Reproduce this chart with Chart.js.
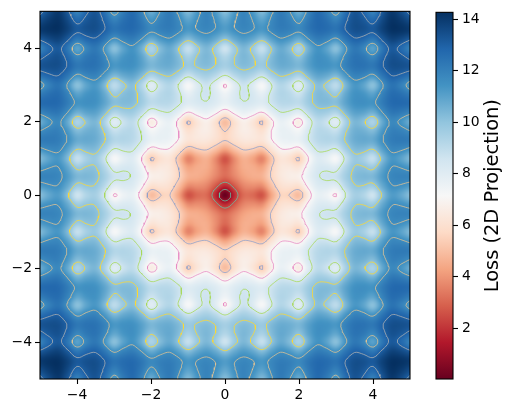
<!DOCTYPE html>
<html>
  <head>
    <title>Loss surface</title>
    <style>
      body { margin: 0; background: #fff; }
      canvas { position: absolute; left: 0; top: 0; }
    </style>
  </head>
  <body>
    <script src="https://cdn.jsdelivr.net/npm/chart.js@4"></script>
    <canvas id="heatChart" width="515" height="413"></canvas>
    <canvas id="barChart" width="515" height="413"></canvas>

    <script>
      // grid nodes, same list for x and y
      const gridCoords = [-5,-4.75,-4.5,-4.25,-4,-3.75,-3.5,-3.25,-3,-2.75,-2.5,-2.25,-2,-1.75,-1.5,-1.25,-1,-0.75,-0.5,-0.25,0,
        0.25,0.5,0.75,1,1.25,1.5,1.75,2,2.25,2.5,2.75,3,3.25,3.5,3.75,4,4.25,4.5,4.75,5];

      const lossQuadrant = [
        [0,1.76,3.09,3.08,2.64,4.31,5.54,5.46,4.93,6.52,7.68,7.51,6.92,8.44,9.53,9.30,8.64,10.11,11.14,10.85,10.14],
        [1.76,2.69,3.63,3.83,3.78,5.02,5.98,6.14,6.03,7.20,8.09,8.18,8.00,9.11,9.93,9.96,9.72,10.77,11.54,11.51,11.22],
        [3.09,3.63,4.25,4.50,4.64,5.57,6.35,6.65,6.78,7.67,8.41,8.63,8.71,9.55,10.22,10.39,10.41,11.19,11.81,11.93,11.89],
        [3.08,3.83,4.50,4.51,4.31,5.44,6.33,6.44,6.28,7.42,8.28,8.35,8.16,9.24,10.05,10.07,9.82,10.86,11.62,11.58,11.29],
        [2.64,3.78,4.64,4.31,3.62,5.12,6.22,6.03,5.42,6.95,8.06,7.84,7.21,8.70,9.77,9.51,8.83,10.29,11.30,11.00,10.28],
        [4.31,5.02,5.57,5.44,5.12,6.15,6.94,6.97,6.74,7.82,8.63,8.68,8.44,9.50,10.29,10.28,10.01,11.03,11.78,11.73,11.42],
        [5.54,5.98,6.35,6.33,6.22,6.94,7.53,7.67,7.68,8.47,9.10,9.27,9.27,10.05,10.68,10.81,10.79,11.54,12.12,12.22,12.16],
        [5.46,6.14,6.65,6.44,6.03,6.97,7.67,7.62,7.34,8.35,9.12,9.11,8.83,9.85,10.61,10.58,10.29,11.28,12.00,11.95,11.61],
        [4.93,6.03,6.78,6.28,5.42,6.74,7.68,7.34,6.59,8.01,9.01,8.70,7.99,9.41,10.41,10.11,9.38,10.78,11.75,11.42,10.66],
        [6.52,7.20,7.67,7.42,6.95,7.82,8.47,8.35,8.01,8.97,9.68,9.62,9.30,10.28,11.00,10.95,10.62,11.58,12.29,12.21,11.86],
        [7.68,8.09,8.41,8.28,8.06,8.63,9.10,9.12,9.01,9.68,10.22,10.29,10.20,10.91,11.47,11.54,11.46,12.15,12.69,12.75,12.65],
        [7.51,8.18,8.63,8.35,7.84,8.68,9.27,9.11,8.70,9.62,10.29,10.18,9.82,10.77,11.46,11.36,11.00,11.95,12.62,12.52,12.14],
        [6.92,8.00,8.71,8.16,7.21,8.44,9.27,8.83,7.99,9.30,10.20,9.82,9.03,10.37,11.30,10.93,10.14,11.48,12.41,12.03,11.23],
        [8.44,9.11,9.55,9.24,8.70,9.50,10.05,9.85,9.41,10.28,10.91,10.77,10.37,11.28,11.93,11.81,11.42,12.33,12.99,12.86,12.46],
        [9.53,9.93,10.22,10.05,9.77,10.29,10.68,10.61,10.41,11.00,11.47,11.46,11.30,11.93,12.41,12.42,12.29,12.93,13.42,13.43,13.28],
        [9.30,9.96,10.39,10.07,9.51,10.28,10.81,10.58,10.11,10.95,11.54,11.36,10.93,11.81,12.42,12.27,11.86,12.75,13.38,13.22,12.81],
        [8.64,9.72,10.41,9.82,8.83,10.01,10.79,10.29,9.38,10.62,11.46,11.00,10.14,11.42,12.29,11.86,11.01,12.31,13.18,12.76,11.91],
        [10.11,10.77,11.19,10.86,10.29,11.03,11.54,11.28,10.78,11.58,12.15,11.95,11.48,12.33,12.93,12.75,12.31,13.17,13.77,13.60,13.16],
        [11.14,11.54,11.81,11.62,11.30,11.78,12.12,12.00,11.75,12.29,12.69,12.62,12.41,12.99,13.42,13.38,13.18,13.77,14.22,14.18,14.00],
        [10.85,11.51,11.93,11.58,11.00,11.73,12.22,11.95,11.42,12.21,12.75,12.52,12.03,12.86,13.43,13.22,12.76,13.60,14.18,13.99,13.53],
        [10.14,11.22,11.89,11.29,10.28,11.42,12.16,11.61,10.66,11.86,12.65,12.14,11.23,12.46,13.28,12.81,11.91,13.16,14.00,13.53,12.64]
      ];

      const contourLevels = [1, 2.4, 5.5, 7, 8.5, 10, 11.6, 13];
      const contourColors = ["#66c2a5c0","#66c2a5c0","#8da0cbc0","#e78ac3c0","#a6d854c0","#ffd92fc0","#e5c494c0","#b3b3b3c0"];
      const axisTicks = [-4,-2,0,2,4];
      const axisTickLabels = ["\u22124","\u22122","0","2","4"];
      const barTicks = [2,4,6,8,10,12,14];
      const barTitle = "Loss (2D Projection)";
      const lossMin = 0.03;
      const lossMax = 14.27;
      const rdBu = ["#67001f","#b2182b","#d6604d","#f4a582","#fddbc7","#f7f7f7","#d1e5f0","#92c5de","#4393c3","#2166ac","#053061"];

      const mid = (gridCoords.length - 1) / 2;
      const lossGrid = gridCoords.map((y, r) => gridCoords.map((x, c) => lossQuadrant[Math.abs(r - mid)][Math.abs(c - mid)]));

      // bicubic display resampling of the read grid, same idea as imshow interpolation
      const refine = 4;
      function cubic(p, q, r, s, t) {
        return 0.5 * (2 * q + (r - p) * t + (2 * p - 5 * q + 4 * r - s) * t * t + (3 * q - p - 3 * r + s) * t * t * t);
      }
      function resampleLine(line) {
        const out = [];
        const at = i => i < 0 ? 2 * line[0] - line[1] : i >= line.length ? 2 * line[line.length - 1] - line[line.length - 2] : line[i];
        for (let i = 0; i < line.length - 1; i++) {
          for (let k = 0; k < refine; k++) out.push(cubic(at(i - 1), at(i), at(i + 1), at(i + 2), k / refine));
        }
        out.push(line[line.length - 1]);
        return out;
      }
      const fineRows = lossGrid.map(resampleLine);
      const fineCols = fineRows[0].map((_, c) => resampleLine(fineRows.map(row => row[c])));
      const fineGrid = fineCols[0].map((_, r) => fineCols.map(col => col[r]));
      const fineCoord = i => gridCoords[0] + i * (gridCoords[1] - gridCoords[0]) / refine;

      function hexRgb(h) {
        return [1, 3, 5].map(i => parseInt(h.substr(i, 2), 16));
      }

      function lossColor(v) {
        const t = Math.min(1, Math.max(0, (v - lossMin) / (lossMax - lossMin))) * (rdBu.length - 1);
        const i = Math.min(rdBu.length - 2, Math.floor(t));
        const a = hexRgb(rdBu[i]), b = hexRgb(rdBu[i + 1]);
        return a.map((ch, k) => ch + (b[k] - ch) * (t - i));
      }

      // marching squares over the field, joined into polylines split by null points
      function contourPoints(level) {
        const segs = [];
        const n = fineGrid.length;
        const cross = (x0, y0, v0, x1, y1, v1) => {
          const t = (level - v0) / (v1 - v0);
          return { x: x0 + (x1 - x0) * t, y: y0 + (y1 - y0) * t };
        };
        for (let r = 0; r < n - 1; r++) {
          for (let c = 0; c < n - 1; c++) {
            const x0 = fineCoord(c), x1 = fineCoord(c + 1), y0 = fineCoord(r), y1 = fineCoord(r + 1);
            const a = fineGrid[r][c], b = fineGrid[r][c + 1], d = fineGrid[r + 1][c], e = fineGrid[r + 1][c + 1];
            const pts = {};
            if ((a < level) !== (b < level)) pts.s = cross(x0, y0, a, x1, y0, b);
            if ((d < level) !== (e < level)) pts.n = cross(x0, y1, d, x1, y1, e);
            if ((a < level) !== (d < level)) pts.w = cross(x0, y0, a, x0, y1, d);
            if ((b < level) !== (e < level)) pts.e = cross(x1, y0, b, x1, y1, e);
            const keys = Object.keys(pts);
            if (keys.length === 2) {
              segs.push([pts[keys[0]], pts[keys[1]]]);
            } else if (keys.length === 4) {
              const centerLow = (a + b + d + e) / 4 < level;
              if (centerLow === (a < level)) {
                segs.push([pts.s, pts.e], [pts.n, pts.w]);
              } else {
                segs.push([pts.s, pts.w], [pts.n, pts.e]);
              }
            }
          }
        }
        const key = p => p.x.toFixed(4) + "," + p.y.toFixed(4);
        const byEnd = {};
        segs.forEach((s, i) => s.forEach(p => (byEnd[key(p)] = byEnd[key(p)] || []).push(i)));
        const used = segs.map(() => false);
        const out = [];
        const walk = (startIdx, startPt) => {
          let cur = startPt, idx = startIdx;
          out.push(cur);
          while (idx !== undefined) {
            used[idx] = true;
            const s = segs[idx];
            const next = key(s[0]) === key(cur) ? s[1] : s[0];
            out.push(next);
            cur = next;
            idx = byEnd[key(cur)].find(i => !used[i]);
          }
          out.push({ x: null, y: null });
        };
        // open ends first (curves leaving the frame), loops afterwards
        Object.keys(byEnd).forEach(k => {
          if (byEnd[k].length === 1 && !used[byEnd[k][0]]) {
            const s = segs[byEnd[k][0]];
            walk(byEnd[k][0], key(s[0]) === k ? s[0] : s[1]);
          }
        });
        segs.forEach((s, i) => { if (!used[i]) walk(i, s[0]); });
        return out;
      }

      // one pixel per field node, scaled up to the axes
      const heatImage = document.createElement("canvas");
      heatImage.width = heatImage.height = fineGrid.length;
      const heatCtx = heatImage.getContext("2d");
      const heatData = heatCtx.createImageData(fineGrid.length, fineGrid.length);
      fineGrid.forEach((row, r) => row.forEach((v, c) => {
        const rgb = lossColor(v);
        const at = ((fineGrid.length - 1 - r) * fineGrid.length + c) * 4;
        heatData.data[at] = rgb[0]; heatData.data[at + 1] = rgb[1]; heatData.data[at + 2] = rgb[2]; heatData.data[at + 3] = 255;
      }));
      heatCtx.putImageData(heatData, 0, 0);

      const heatPlugin = {
        id: "heat",
        beforeDatasetsDraw(chart) {
          const { ctx, chartArea, scales } = chart;
          const half = (fineCoord(1) - fineCoord(0)) / 2;
          const left = scales.x.getPixelForValue(fineCoord(0) - half);
          const right = scales.x.getPixelForValue(fineCoord(fineGrid.length - 1) + half);
          const top = scales.y.getPixelForValue(fineCoord(fineGrid.length - 1) + half);
          const bottom = scales.y.getPixelForValue(fineCoord(0) - half);
          ctx.save();
          ctx.beginPath();
          ctx.rect(chartArea.left, chartArea.top, chartArea.width, chartArea.height);
          ctx.clip();
          ctx.imageSmoothingEnabled = true;
          ctx.imageSmoothingQuality = "high";
          ctx.drawImage(heatImage, left, top, right - left, bottom - top);
          ctx.restore();
        }
      };

      const framePlugin = {
        id: "frame",
        afterDraw(chart) {
          const { ctx, chartArea: a } = chart;
          ctx.save();
          ctx.strokeStyle = "#000";
          ctx.lineWidth = 1.1;
          ctx.strokeRect(a.left, a.top, a.width, a.height);
          ctx.restore();
        }
      };

      // chart.js turns a right-hand axis title the other way, so it is drawn here
      const barTitlePlugin = {
        id: "barTitle",
        afterDraw(chart) {
          const { ctx, chartArea: a } = chart;
          ctx.save();
          ctx.translate(493, (a.top + a.bottom) / 2);
          ctx.rotate(-Math.PI / 2);
          ctx.font = "19.4px 'DejaVu Sans'";
          ctx.fillStyle = "#000";
          ctx.textAlign = "center";
          ctx.textBaseline = "middle";
          ctx.fillText(barTitle, 0, 0);
          ctx.restore();
        }
      };

      const tickFont = { family: "'DejaVu Sans'", size: 13.9 };

      function axis(width, height) {
        return {
          type: "linear", min: -5, max: 5,
          afterBuildTicks(s) { s.ticks = axisTicks.map(v => ({ value: v })); },
          afterFit(s) { if (width) s.width = width; if (height) s.height = height; },
          ticks: { color: "#000", font: tickFont, padding: 3, maxRotation: 0, autoSkip: false,
            callback: v => axisTickLabels[axisTicks.indexOf(v)] },
          grid: { drawOnChartArea: false, drawTicks: true, tickLength: 5, tickWidth: 1.1, tickColor: "#000" },
          border: { display: false }
        };
      }

      new Chart(document.getElementById("heatChart"), {
        type: "scatter",
        data: {
          datasets: contourLevels.map((level, i) => ({
            label: "loss " + level,
            data: contourPoints(level),
            showLine: true,
            spanGaps: false,
            borderColor: contourColors[i],
            borderWidth: 1,
            pointRadius: 0
          }))
        },
        options: {
          responsive: false,
          animation: false,
          layout: { padding: { top: 10, right: 105, left: 0, bottom: 0 } },
          plugins: { legend: { display: false }, tooltip: { enabled: false } },
          scales: { x: axis(0, 34), y: axis(40, 0) }
        },
        plugins: [heatPlugin, framePlugin]
      });

      new Chart(document.getElementById("barChart"), {
        type: "bar",
        data: {
          labels: ["loss"],
          datasets: [{
            data: [[lossMin, lossMax]],
            barPercentage: 1,
            categoryPercentage: 1,
            backgroundColor(c) {
              const { chartArea, scales, ctx } = c.chart;
              if (!chartArea) return "#fff";
              const g = ctx.createLinearGradient(0, scales.y.getPixelForValue(lossMin), 0, scales.y.getPixelForValue(lossMax));
              rdBu.forEach((col, i) => g.addColorStop(i / (rdBu.length - 1), col));
              return g;
            }
          }]
        },
        options: {
          responsive: false,
          animation: false,
          layout: { padding: { top: 10, left: 436, right: 0, bottom: 34 } },
          plugins: { legend: { display: false }, tooltip: { enabled: false } },
          scales: {
            x: { display: false },
            y: {
              position: "right",
              min: lossMin, max: lossMax,
              afterBuildTicks(s) { s.ticks = barTicks.map(v => ({ value: v })); },
              afterFit(s) { s.width = 62; },
              ticks: { color: "#000", font: tickFont, padding: 4 },
              grid: { drawOnChartArea: false, drawTicks: true, tickLength: 5, tickWidth: 1.1, tickColor: "#000" },
              border: { display: false }
            }
          }
        },
        plugins: [framePlugin, barTitlePlugin]
      });
    </script>
  </body>
</html>
